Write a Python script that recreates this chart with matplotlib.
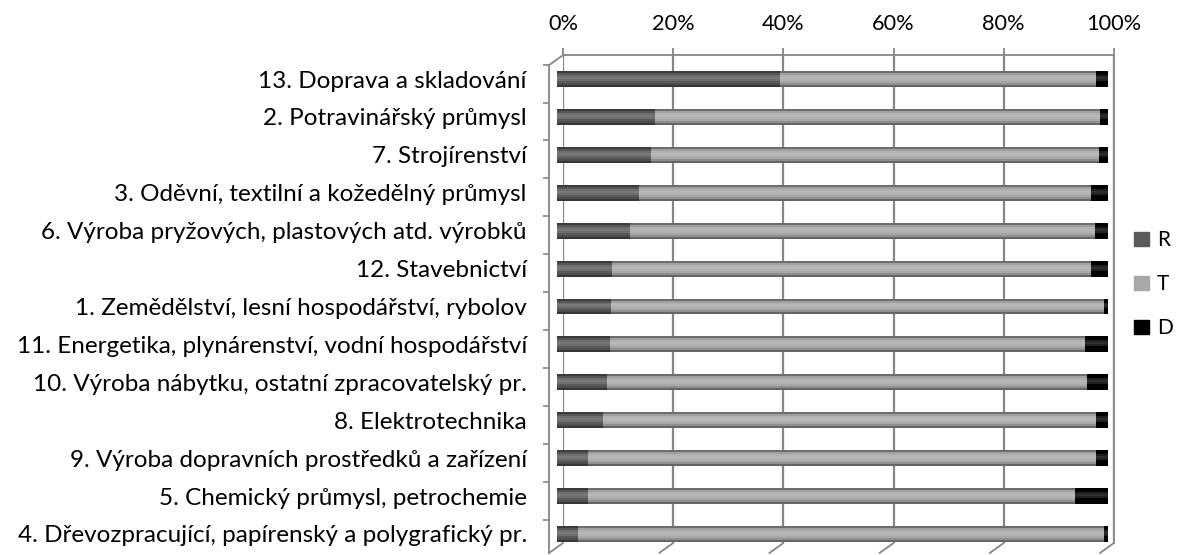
import matplotlib
matplotlib.use("Agg")
from matplotlib import pyplot as plt
from matplotlib.patches import Rectangle
import matplotlib.transforms as mtransforms
import numpy as np

# categories listed top to bottom as in the chart
categories = [
    "13. Doprava a skladování",
    "2. Potravinářský průmysl",
    "7. Strojírenství",
    "3. Oděvní, textilní a kožedělný průmysl",
    "6. Výroba pryžových, plastových atd. výrobků",
    "12. Stavebnictví",
    "1. Zemědělství, lesní hospodářství, rybolov",
    "11. Energetika, plynárenství, vodní hospodářství",
    "10. Výroba nábytku, ostatní zpracovatelský pr.",
    "8. Elektrotechnika",
    "9. Výroba dopravních prostředků a zařízení",
    "5. Chemický průmysl, petrochemie",
    "4. Dřevozpracující, papírenský a polygrafický pr.",
]
r_vals = [40.5, 17.8, 17.1, 14.9, 13.3, 10.0, 9.8, 9.7, 9.0, 8.3, 5.7, 5.7, 3.9]
t_vals = [57.3, 80.8, 81.2, 82.1, 84.4, 87.0, 89.4, 86.2, 87.2, 89.5, 92.2, 88.3, 95.3]
d_vals = [2.2, 1.4, 1.7, 3.0, 2.3, 3.0, 0.8, 4.1, 3.8, 2.2, 2.1, 6.0, 0.8]
series = ["R", "T", "D"]
colors = ["#5a5a5a", "#a8a8a8", "#000000"]
xticks = [0, 20, 40, 60, 80, 100]

plt.rcParams["font.family"] = ["Lato", "DejaVu Sans"]
GRID = "#868686"

fig = plt.figure(figsize=(11.79, 5.55), dpi=100)
ax = fig.add_axes([0.4775, 0.0216, 0.4673, 0.879])

y = np.arange(len(categories))[::-1]
bar_h = 0.42

# bars sit a little in front of the back wall (3D look): shift them left
front = ax.transData + mtransforms.ScaledTranslation(-0.06, 0, fig.dpi_scale_trans)

# cylinder-like shading: strips from top to bottom of each bar
shade = [-0.35, -0.05, 0.12, 0.18, 0.12, 0.0, -0.15, -0.4]
n = len(shade)


def tone(hexcol, k):
    c = np.array(matplotlib.colors.to_rgb(hexcol))
    if k >= 0:
        return c + (1 - c) * k
    return c * (1 + k)


left = np.zeros(len(categories))
for vals, col in zip([r_vals, t_vals, d_vals], colors):
    vals = np.array(vals)
    for j, k in enumerate(shade):
        top = y + bar_h / 2 - j * bar_h / n
        bars = ax.barh(top - bar_h / (2 * n), vals, left=left, height=bar_h / n,
                       color=tone(col, k), linewidth=0)
        for b in bars:
            b.set_transform(front)
            b.set_clip_on(False)
    left = left + vals

ax.xaxis.tick_top()
ax.set_xticks(xticks)
ax.set_xticklabels([f"{v}%" for v in xticks])
ax.set_yticks(y)
ax.set_yticklabels(categories)
ax.set_yticks(np.arange(0.5, 12.6, 1) - 0.12, minor=True)
ax.set_xlim(0, 100)
ax.set_ylim(-0.24, 12.63)
ax.tick_params(axis="x", length=5, width=1.3, color=GRID, pad=10,
               labelsize=15.7)
ax.tick_params(axis="y", which="major", length=0, pad=16, labelsize=17.5)
ax.tick_params(axis="y", which="minor", length=4, width=1.2, color=GRID)
ax.grid(axis="x", color=GRID, linewidth=1.6)
ax.set_axisbelow(True)
for s in ["top", "right", "left"]:
    ax.spines[s].set_color(GRID)
    ax.spines[s].set_linewidth(1.3)
ax.spines["left"].set_position(("outward", 10))
ax.spines["left"].set_bounds(-0.5, 12.37)
ax.spines["bottom"].set_visible(False)

# depth edges of the 3D frame
for xv in xticks:
    ax.annotate("", xy=(xv, -0.24), xytext=(-14, -10), textcoords="offset pixels",
                arrowprops=dict(arrowstyle="-", color=GRID, lw=1.3,
                                shrinkA=0, shrinkB=0))
ax.annotate("", xy=(0, 12.63), xytext=(-14, -10), textcoords="offset pixels",
            arrowprops=dict(arrowstyle="-", color=GRID, lw=1.3,
                            shrinkA=0, shrinkB=0))

handles = [Rectangle((0, 0), 1, 1, color=c) for c in colors]
fig.legend(handles, series, loc="center left", bbox_to_anchor=(0.962, 0.488),
           frameon=False, fontsize=15, handlelength=0.7, handleheight=0.7,
           handletextpad=0.4, labelspacing=1.15, borderpad=0, borderaxespad=0)

fig.savefig("out.png", dpi=100)
